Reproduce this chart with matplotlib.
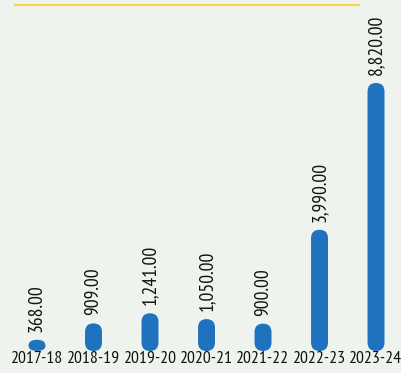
import matplotlib
matplotlib.use('Agg')
import matplotlib.pyplot as plt
from matplotlib.patches import FancyBboxPatch
from matplotlib.lines import Line2D

years = ['2017-18', '2018-19', '2019-20', '2020-21', '2021-22', '2022-23', '2023-24']
values = [368.00, 909.00, 1241.00, 1050.00, 900.00, 3990.00, 8820.00]

bg = '#eef3ee'
blue = '#1f72bd'
font = 'PT Sans Narrow'

fig = plt.figure(figsize=(4.01, 3.73), dpi=100, facecolor=bg)
ax = fig.add_axes([0, 22/373, 1, 351/373])
ax.set_facecolor(bg)
ax.set_xlim(-0.655, 6.442)
ax.set_ylim(0, 8820 * 351 / 268)

xx = range(len(values))
w = 0.30
bars = ax.bar(xx, values, width=w, color=blue, alpha=0)

# pixel scale for rounded caps
px_x = (6.442 + 0.655) / 401
px_y = (8820 * 351 / 268) / 351
full_aspect = px_y / px_x
for b in bars:
    x0, h = b.get_x(), b.get_height()
    aspect = min(full_aspect, h / w)
    p = FancyBboxPatch((x0, 0), w, h,
                       boxstyle='round,pad=0,rounding_size=%f' % (w / 2),
                       mutation_aspect=aspect, fc=blue, ec='none')
    ax.add_patch(p)

for x, v in zip(xx, values):
    ax.text(x, v + 8 * px_y, f'{v:,.2f}', rotation=90, ha='center', va='bottom',
            fontsize=14, family=font, color='#111111')

ax.set_xticks(list(xx))
ax.set_xticklabels(years, fontsize=12.8, family=font, color='#111111')
ax.tick_params(axis='x', length=0, pad=0)
ax.set_yticks([])
for s in ax.spines.values():
    s.set_visible(False)

fig.add_artist(Line2D([15/401, 359/401], [1 - 4.5/373, 1 - 4.5/373],
                      color='#f8d44c', lw=1.6, transform=fig.transFigure))

fig.savefig('out.png', dpi=100, facecolor=bg)
